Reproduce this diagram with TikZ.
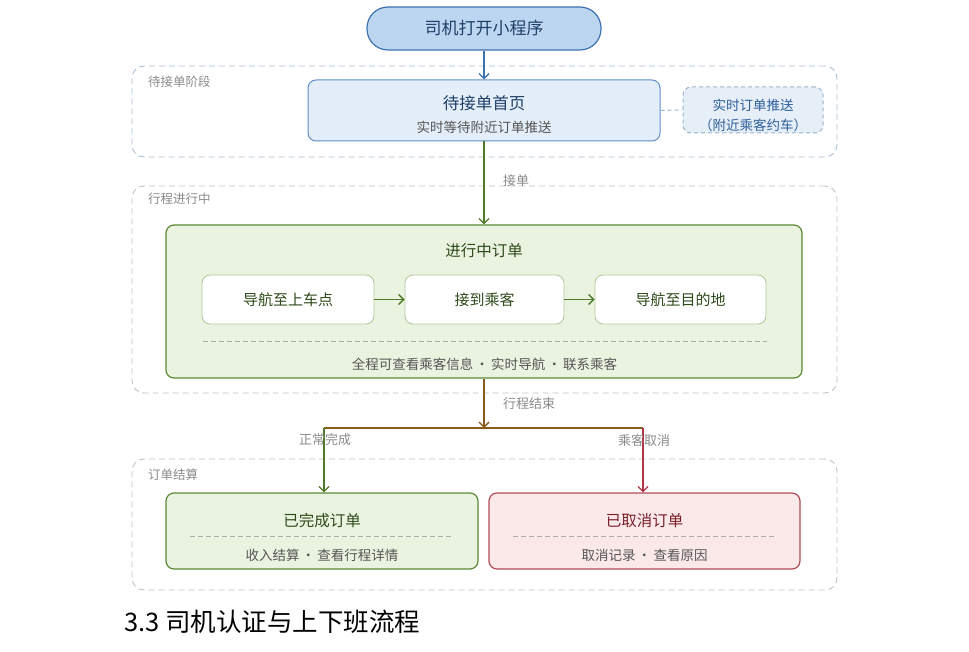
\documentclass[tikz,border=0pt]{standalone}
\usepackage{fontspec}
\setmainfont{Noto Sans CJK SC}
\usetikzlibrary{arrows.meta}
\definecolor{bluestroke}{HTML}{3D72B0}
\definecolor{bluefill}{HTML}{BCD6F2}
\definecolor{bluetext}{HTML}{1F3F66}
\definecolor{lbluefill}{HTML}{E4EEF9}
\definecolor{lbluestroke}{HTML}{5F8FC6}
\definecolor{pushfill}{HTML}{E6EEF8}
\definecolor{pushstroke}{HTML}{9DB4CE}
\definecolor{pushtext}{HTML}{2F5F9A}
\definecolor{grpblue}{HTML}{A9BDD3}
\definecolor{grpgray}{HTML}{C4C0BA}
\definecolor{lbl}{HTML}{8A8A8A}
\definecolor{greenline}{HTML}{4F7A2A}
\definecolor{greenfill}{HTML}{EAF3E0}
\definecolor{greenstroke}{HTML}{5B8A35}
\definecolor{innerstroke}{HTML}{B5C9A0}
\definecolor{greentext}{HTML}{2E4A1A}
\definecolor{brownline}{HTML}{8A5A1A}
\definecolor{redline}{HTML}{B03545}
\definecolor{redfill}{HTML}{FBE9EA}
\definecolor{redstroke}{HTML}{B04A55}
\definecolor{redtext}{HTML}{7A1F28}
\definecolor{subtext}{HTML}{555555}
\tikzset{
  grp/.style={draw, dashed, dash pattern=on 6pt off 4pt, rounded corners=12pt, line width=0.9pt},
  grplabel/.style={anchor=west, text=lbl, font=\fontsize{12.5}{14}\selectfont, inner sep=0},
  box/.style={rounded corners=8pt, line width=1pt, inner sep=0},
  inner/.style={draw=innerstroke, fill=white, rounded corners=8pt, line width=0.9pt, minimum height=49pt, inner sep=0},
  ttl/.style={font=\fontsize{16}{18}\selectfont, inner sep=0},
  sub/.style={font=\fontsize{13.5}{16}\selectfont, text=subtext, inner sep=0},
  arr/.style={-{Straight Barb[length=5pt,width=10pt]}, line width=1.3pt},
  elbl/.style={text=lbl, font=\fontsize{13}{15}\selectfont, inner sep=0},
}
\begin{document}
\begin{tikzpicture}[x=1pt,y=-1pt]
\useasboundingbox (0,0) rectangle (969,652);
% groups
\node[grp, draw=grpblue, minimum width=705pt, minimum height=91pt] (g1) at (484.5,111.5) {};
\node[grplabel] (g1l) at (148,82) {待接单阶段};
\node[grp, draw=grpgray, minimum width=705pt, minimum height=207pt] (g2) at (484.5,289.5) {};
\node[grplabel] (g2l) at (148,199) {行程进行中};
\node[grp, draw=grpgray, minimum width=705pt, minimum height=131pt] (g3) at (484.5,524.5) {};
\node[grplabel] (g3l) at (148,475) {订单结算};
% start
\node[draw=bluestroke, fill=bluefill, line width=1.2pt, rounded corners=21pt, minimum width=234pt, minimum height=43pt, text=bluetext, font=\fontsize{17}{19}\selectfont] (start) at (484,28.5) {司机打开小程序};
% waiting
\node[box, draw=lbluestroke, fill=lbluefill, minimum width=352pt, minimum height=61pt] (wait) at (484,110.5) {};
\node[ttl, text=bluetext, font=\fontsize{16.5}{18}\selectfont] (waitt) at (484,103) {待接单首页};
\node[sub] (waits) at (484,127) {实时等待附近订单推送};
\node[box, draw=pushstroke, fill=pushfill, dashed, dash pattern=on 4pt off 3pt, minimum width=140pt, minimum height=46pt] (push) at (753,110) {};
\node[font=\fontsize{13.5}{16}\selectfont, text=pushtext, inner sep=0] (pusht1) at (753,105) {实时订单推送};
\node[font=\fontsize{13.5}{16}\selectfont, text=pushtext, inner sep=0] (pusht2) at (753,125) {（附近乘客约车）};
% in progress
\node[box, draw=greenstroke, fill=greenfill, line width=1.2pt, minimum width=636pt, minimum height=153pt] (prog) at (484,301.5) {};
\node[ttl, text=greentext, font=\fontsize{15.5}{18}\selectfont] (progt) at (484,251) {进行中订单};
\node[inner, minimum width=172pt, font=\fontsize{15}{18}\selectfont, text=greentext] (nav1) at (288,299.5) {导航至上车点};
\node[inner, minimum width=159pt, font=\fontsize{15}{18}\selectfont, text=greentext] (pick) at (484.5,299.5) {接到乘客};
\node[inner, minimum width=171pt, font=\fontsize{15}{18}\selectfont, text=greentext] (nav2) at (680.5,299.5) {导航至目的地};
\coordinate (dl1) at (203,341);
\coordinate (dr1) at (767,341);
\draw[dashed, draw=lbl!70, dash pattern=on 5pt off 3pt, line width=0.7pt] (dl1) -- (dr1);
\node[sub] (progs) at (484.5,364) {全程可查看乘客信息\,·\,实时导航\,·\,联系乘客};
% settlement
\node[box, draw=greenstroke, fill=greenfill, line width=1.2pt, minimum width=312pt, minimum height=76pt] (done) at (322,531) {};
\node[ttl, text=greentext, font=\fontsize{15.5}{18}\selectfont] (donet) at (322,521) {已完成订单};
\coordinate (dl2) at (190,536);
\coordinate (dr2) at (452,536);
\draw[dashed, draw=lbl!70, dash pattern=on 5pt off 3pt, line width=0.7pt] (dl2) -- (dr2);
\node[sub] (dones) at (322,555) {收入结算\,·\,查看行程详情};
\node[box, draw=redstroke, fill=redfill, line width=1.2pt, minimum width=311pt, minimum height=76pt] (cancel) at (644.5,531) {};
\node[ttl, text=redtext, font=\fontsize{15.5}{18}\selectfont] (cancelt) at (644.5,521) {已取消订单};
\coordinate (dl3) at (513,536);
\coordinate (dr3) at (775,536);
\draw[dashed, draw=lbl!70, dash pattern=on 5pt off 3pt, line width=0.7pt] (dl3) -- (dr3);
\node[sub] (cancels) at (644.5,555) {取消记录\,·\,查看原因};
% connectors
\draw[arr, draw=bluestroke] (start.south) -- (wait.north);
\draw[dashed, draw=pushstroke, line width=0.9pt, dash pattern=on 4pt off 3pt] (wait.east) -- (push.west);
\draw[arr, draw=greenline] (wait.south) -- (prog.north);
\node[elbl] (lbl1) at (516,181) {接单};
\draw[arr, draw=greenline] (nav1.east) -- (pick.west);
\draw[arr, draw=greenline] (pick.east) -- (nav2.west);
\coordinate (split) at (484,428);
\coordinate (lft) at (324,428);
\coordinate (rgt) at (643,428);
\draw[arr, draw=brownline] (prog.south) -- (split);
\node[elbl] (lbl2) at (529,404) {行程结束};
\draw[draw=brownline, line width=1.3pt] (lft) -- (rgt);
\draw[arr, draw=greenline] (lft) -- (lft |- done.north);
\draw[arr, draw=redline] (rgt) -- (rgt |- cancel.north);
\node[elbl] (lbl3) at (325,440) {正常完成};
\node[elbl] (lbl4) at (644,440) {乘客取消};
% heading
\node[anchor=west, font=\fontsize{25.5}{28}\selectfont, text=black, inner sep=0] (head) at (124,622) {3.3 司机认证与上下班流程};
\end{tikzpicture}
\end{document}
